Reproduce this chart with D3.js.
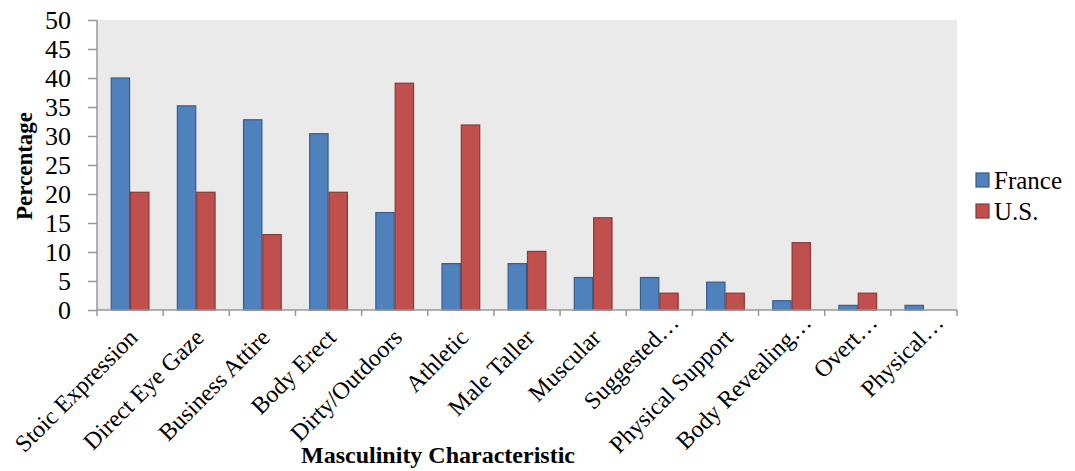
<!DOCTYPE html>
<html><head><meta charset="utf-8">
<script src="https://cdn.jsdelivr.net/npm/d3@7"></script>
<style>body{margin:0;background:#fff}svg{display:block}</style>
</head><body>
<svg id="c" width="1075" height="471"></svg>
<script>
const categories = ["Stoic Expression","Direct Eye Gaze","Business Attire","Body Erect","Dirty/Outdoors","Athletic","Male Taller","Muscular","Suggested…","Physical Support","Body Revealing…","Overt…","Physical…"];
const france = [40.0,35.2,32.8,30.4,16.8,8.0,8.0,5.6,5.6,4.8,1.6,0.8,0.8];
const us = [20.3,20.3,13.0,20.3,39.1,31.9,10.1,15.9,2.9,2.9,11.6,2.9,0];
const seriesNames = ["France","U.S."];
const yTicks = [0,5,10,15,20,25,30,35,40,45,50];

const svg = d3.select("#c");
const m = {l:97, r:957, t:20, b:310};
const x = d3.scaleBand().domain(categories).range([m.l, m.r]).paddingInner(0.415).paddingOuter(0.2075);
const x0 = d3.scaleBand().domain(categories).range([m.l, m.r]);
const xs = d3.scaleBand().domain(seriesNames).range([0, x.bandwidth()]);
const y = d3.scaleLinear().domain([0,50]).range([m.b, m.t]);
const fills = ["#4f81bd","#c0504d"], strokes = ["#385d8a","#8c3836"];
const font = "Liberation Serif, Times New Roman, serif";

svg.append("rect").attr("x", m.l).attr("y", m.t).attr("width", m.r-m.l).attr("height", m.b-m.t).attr("fill","#eaeaea");

const data = [france, us];
data.forEach((vals, si) => {
  svg.append("g").selectAll("rect").data(vals).join("rect")
    .attr("x", (d,i) => x(categories[i]) + xs(seriesNames[si]) + 0.5)
    .attr("y", d => y(d))
    .attr("width", xs.bandwidth() - 1)
    .attr("height", d => y(0) - y(d))
    .attr("fill", fills[si]).attr("stroke", strokes[si]).attr("stroke-width", 1.2)
    .style("display", d => d > 0 ? null : "none");
});

// Y axis
const ya = svg.append("g").attr("transform", `translate(${m.l},0)`)
  .call(d3.axisLeft(y).tickValues(yTicks).tickSize(9).tickPadding(17));
ya.selectAll("line, path").attr("stroke", "#999").attr("stroke-width", 1.5);
ya.select("path").attr("d", `M0,${m.t}V${m.b}`);
ya.selectAll("text").attr("font-family", font).attr("font-size", 26).attr("fill", "#000");

// X axis line and boundary ticks
const xg = svg.append("g");
xg.append("line").attr("x1", m.l).attr("x2", m.r).attr("y1", m.b).attr("y2", m.b).attr("stroke", "#999").attr("stroke-width", 1.5);
const bounds = categories.map(c => x0(c)).concat([m.r]);
xg.selectAll("line.t").data(bounds).join("line").attr("class","t")
  .attr("x1", d => d).attr("x2", d => d).attr("y1", m.b).attr("y2", m.b + 6)
  .attr("stroke", "#999").attr("stroke-width", 1.5);

xg.selectAll("text").data(categories).join("text")
  .attr("transform", d => {
    const trunc = d.endsWith("…");
    const cx = x0(d) + x0.bandwidth()/2 + (trunc ? 21 : 9);
    const cy = m.b + (trunc ? 14 : 29);
    return `translate(${cx},${cy}) rotate(-45)`;
  })
  .attr("text-anchor", "end").attr("font-family", font).attr("font-size", 24).attr("fill", "#000")
  .text(d => d);

// Axis titles
svg.append("text").attr("x", 438).attr("y", 463).attr("text-anchor", "middle")
  .attr("font-family", font).attr("font-weight", "bold").attr("font-size", 24).text("Masculinity Characteristic");
svg.append("text").attr("transform", "translate(32,166) rotate(-90)").attr("text-anchor", "middle")
  .attr("font-family", font).attr("font-weight", "bold").attr("font-size", 23).text("Percentage");

// Legend
const lg = svg.append("g");
seriesNames.forEach((n, i) => {
  lg.append("rect").attr("x", 976).attr("y", 173 + i*31).attr("width", 13).attr("height", 14)
    .attr("fill", fills[i]).attr("stroke", strokes[i]).attr("stroke-width", 1.2);
  lg.append("text").attr("x", 994).attr("y", 189 + i*31).attr("font-family", font).attr("font-size", 25).text(n);
});
</script>
</body></html>
